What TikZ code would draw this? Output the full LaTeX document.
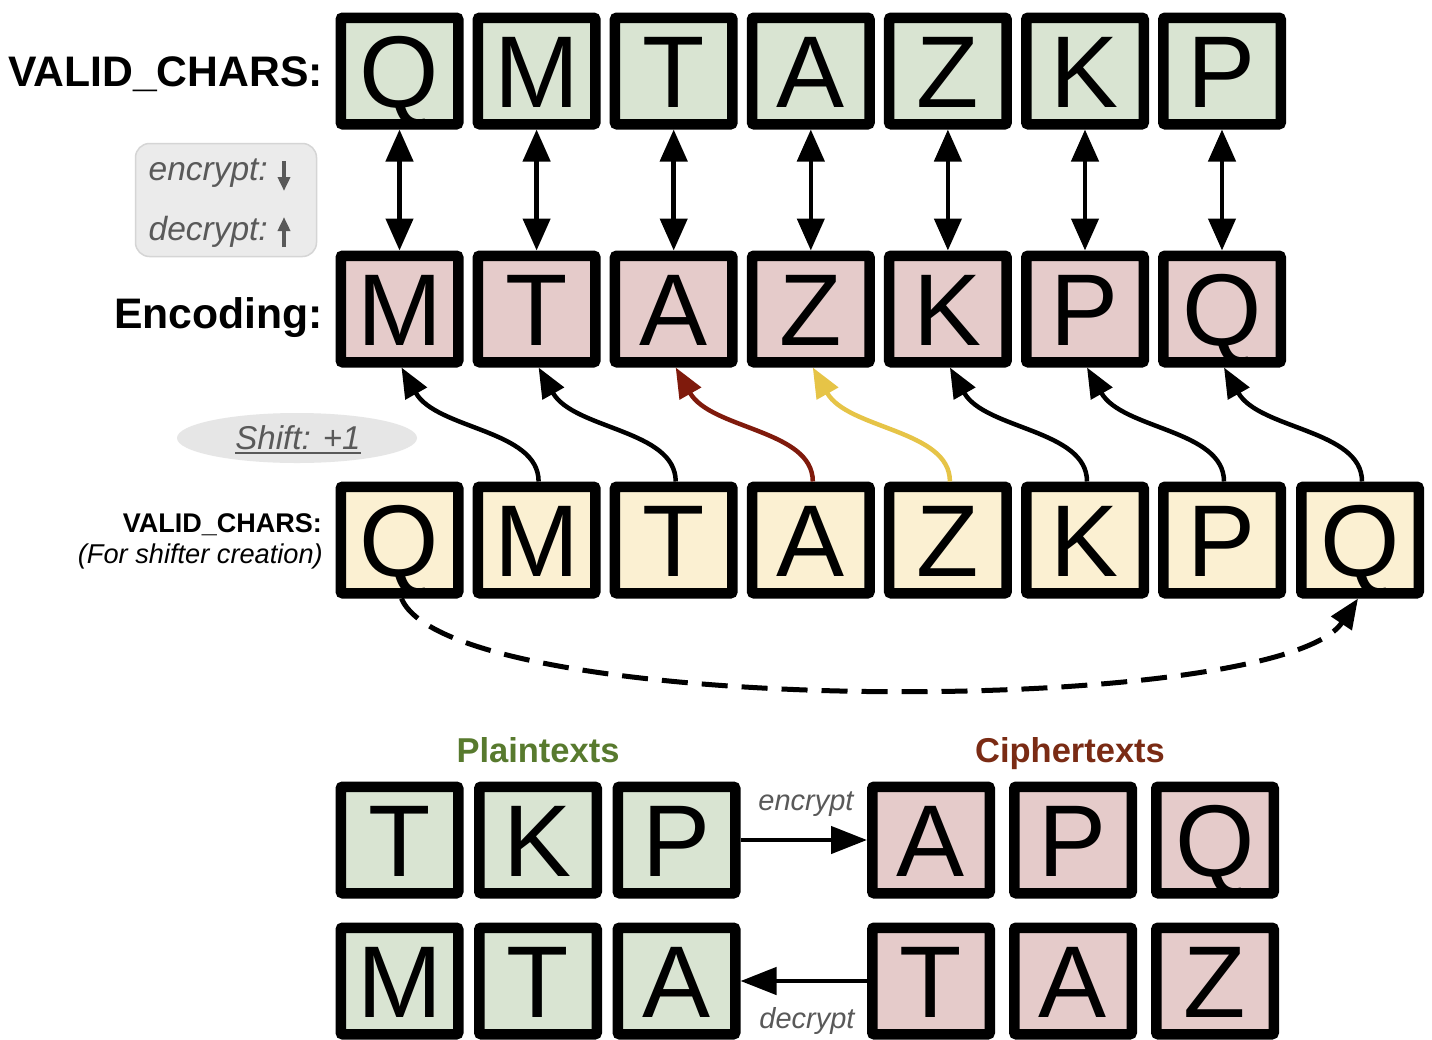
\documentclass[tikz,border=0pt]{standalone}
\usepackage{fontspec}
\setmainfont{Liberation Sans}
\usetikzlibrary{arrows.meta,shapes.geometric}
\definecolor{gfill}{HTML}{D9E4D2}
\definecolor{rfill}{HTML}{E5CBCA}
\definecolor{yfill}{HTML}{FBF0D2}
\definecolor{txtgray}{HTML}{595959}
\definecolor{legfill}{HTML}{EBEBEB}
\definecolor{legdraw}{HTML}{D5D5D5}
\definecolor{ellfill}{HTML}{E6E6E6}
\definecolor{plaingreen}{HTML}{587A2E}
\definecolor{cipherred}{HTML}{7A2B14}
\definecolor{arrred}{HTML}{7F1A0C}
\definecolor{arryel}{HTML}{E6C447}
\begin{document}
\begin{tikzpicture}[x=1pt,y=-1pt,
  box/.style={draw=black,line width=10.5pt,rounded corners=2pt,minimum width=117.5pt,minimum height=106.5pt,
    inner sep=0pt,text height=73pt,text depth=0pt,font=\fontsize{102}{102}\selectfont},
  gbox/.style={box,fill=gfill},
  rbox/.style={box,fill=rfill},
  ybox/.style={box,fill=yfill},
  dblarrow/.style={line width=4.5pt,{Triangle[length=32pt,width=27pt]}-{Triangle[length=32pt,width=27pt]}},
  curvarrow/.style={line width=4.5pt,-{Triangle[length=30pt,width=24pt]}},
  flatarrow/.style={line width=4.5pt,-{Triangle[length=36pt,width=27pt]}},
  dasharrow/.style={line width=5pt,dash pattern=on 26pt off 14pt,-{Triangle[length=30pt,width=24pt]}},
  legarrow/.style={draw=txtgray,line width=3.5pt,-{Triangle[length=14pt,width=12pt]}},
  bigbold/.style={font=\fontsize{42.7}{43}\selectfont\bfseries,inner sep=0pt},
  smallbold/.style={font=\fontsize{27}{27}\selectfont\bfseries,inner sep=0pt},
  smallital/.style={font=\fontsize{27.2}{27}\selectfont\itshape,inner sep=0pt},
  legtext/.style={font=\fontsize{33.5}{34}\selectfont\itshape,text=txtgray,inner sep=0pt},
  arrtext/.style={font=\fontsize{29}{29}\selectfont\itshape,text=txtgray,inner sep=0pt},
  headtext/.style={font=\fontsize{34.5}{35}\selectfont\bfseries,inner sep=0pt}
]
\useasboundingbox[fill=white] (0,0) rectangle (1432,1039);

% ---- top row: VALID_CHARS
\foreach \c/\l [count=\i from 0] in {399.5/Q,536.6/M,673.7/T,810.8/A,947.9/Z,1085/K,1222/P}
  \node[gbox] (t\i) at (\c,71) {\l};
% ---- encoding row
\foreach \c/\l [count=\i from 0] in {399.5/M,536.6/T,673.7/A,810.8/Z,947.9/K,1085/P,1222/Q}
  \node[rbox] (e\i) at (\c,309) {\l};
% ---- shifter row
\foreach \c/\l [count=\i from 0] in {399.5/Q,536.6/M,673.7/T,810.8/A,947.9/Z,1085/K,1222/P,1360/Q}
  \node[ybox] (y\i) at (\c,540) {\l};

% ---- labels
\node[bigbold,anchor=base east] (lvalid) at (323,86) {VALID\_CHARS:};
\node[bigbold,anchor=base east] (lenc) at (323,328) {Encoding:};
\node[smallbold,anchor=base east] (lvalid2) at (322,532) {VALID\_CHARS:};
\node[smallital,anchor=base east] (lfor) at (323,563) {(For shifter creation)};

% ---- legend
\node[draw=legdraw,fill=legfill,line width=1.5pt,rounded corners=14pt,minimum width=181pt,minimum height=113pt] (legend) at (226,200) {};
\node[legtext,anchor=base east] (lencr) at (268,180) {encrypt:};
\node[legtext,anchor=base east] (ldecr) at (268,240) {decrypt:};
\coordinate (ea1) at (284,161);
\coordinate (ea2) at (284,191);
\coordinate (da1) at (284,247);
\coordinate (da2) at (284,217);
\draw[legarrow] (ea1) -- (ea2);
\draw[legarrow] (da1) -- (da2);

% ---- shift ellipse
\node[ellipse,fill=ellfill,minimum width=240pt,minimum height=50pt,inner sep=0pt] (shiftell) at (297,438) {};
\node[font=\fontsize{33}{33}\selectfont\itshape,text=txtgray,inner sep=0pt,anchor=base] (shift) at (298,449) {Shift: +1};
\draw[txtgray,line width=2pt] (shift.base west) ++(0,4) coordinate (ul1) -- (shift.base east |- ul1);

% ---- vertical double arrows
\foreach \i in {0,...,6}
  \draw[dblarrow] (t\i.south) -- (e\i.north);

% ---- curved arrows shifter -> encoding
\foreach \i/\j/\col in {1/0/black,2/1/black,3/2/arrred,4/3/arryel,5/4/black,6/5/black,7/6/black}
  \draw[curvarrow,color=\col] ([xshift=2pt]y\i.north) .. controls +(0,-52) and +(35,62) .. ([xshift=2pt]e\j.south);

% ---- dashed wrap arrow
\draw[dasharrow] ([xshift=2pt]y0.south) .. controls +(50,120) and +(-80,120) .. ([xshift=-2pt]y7.south);

% ---- bottom part
\node[headtext,text=plaingreen,anchor=base] (plain) at (538,762) {Plaintexts};
\node[headtext,text=cipherred,anchor=base] (cipher) at (1070,762) {Ciphertexts};

\foreach \c/\l [count=\i from 0] in {399.5/T,538/K,676.5/P}
  \node[gbox] (p\i) at (\c,840) {\l};
\foreach \c/\l [count=\i from 0] in {931/A,1073/P,1215/Q}
  \node[rbox] (c\i) at (\c,840) {\l};
\foreach \c/\l [count=\i from 0] in {399.5/M,538/T,676.5/A}
  \node[gbox] (q\i) at (\c,981) {\l};
\foreach \c/\l [count=\i from 0] in {931/T,1073/A,1215/Z}
  \node[rbox] (d\i) at (\c,981) {\l};

\draw[flatarrow] (p2.east) -- (c0.west);
\draw[flatarrow] (d0.west) -- (q2.east);
\node[arrtext] (encl) at (806,804) {encrypt};
\node[arrtext] (decl) at (807,1021) {decrypt};
\end{tikzpicture}
\end{document}
